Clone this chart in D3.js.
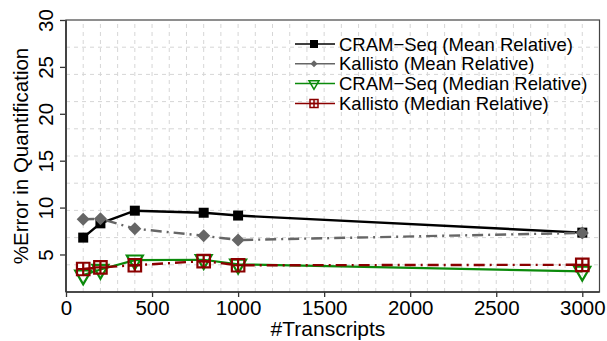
<!DOCTYPE html>
<html>
<head>
<meta charset="utf-8">
<script src="https://cdn.jsdelivr.net/npm/d3@7"></script>
<style>
  body { margin: 0; background: #fff; }
  text { font-family: "Liberation Sans", Arial, sans-serif; fill: #000; }
</style>
</head>
<body>
<script>
const width = 607;
const height = 341;
const margin = { top: 20, right: 7.5, bottom: 49, left: 66 };

// Number of transcripts on the x axis
const transcripts = [100, 200, 400, 800, 1000, 3000];

// % error series
const cramMean = [6.8, 8.32, 9.67, 9.45, 9.15, 7.33];
const kallistoMean = [8.75, 8.8, 7.75, 7.0, 6.54, 7.3];
const cramMedian = [2.8, 3.4, 4.4, 4.44, 3.95, 3.2];
const kallistoMedian = [3.45, 3.63, 3.85, 4.3, 3.85, 3.9];

const seriesNames = [
  "CRAM\u2212Seq (Mean Relative)",
  "Kallisto (Mean Relative)",
  "CRAM\u2212Seq (Median Relative)",
  "Kallisto (Median Relative)"
];

const xTicks = [0, 500, 1000, 1500, 2000, 2500, 3000];
const yTicks = [5, 10, 15, 20, 25, 30];

const svg = d3.select("body")
    .append("svg")
    .attr("width", width)
    .attr("height", height);

const x = d3.scaleLinear()
    .domain([0, 3100])
    .range([margin.left, width - margin.right]);

const y = d3.scaleLinear()
    .domain([1, 30])
    .range([height - margin.bottom, margin.top]);

// grid: every 100 transcripts, ten equal rows
const grid = svg.append("g")
    .attr("stroke", "#d6d6d6")
    .attr("stroke-width", 1)
    .attr("stroke-dasharray", "4,4");

grid.selectAll(".vg")
    .data(d3.range(100, 3100, 100))
    .join("line")
    .attr("x1", d => x(d)).attr("x2", d => x(d))
    .attr("y1", y(1)).attr("y2", y(30));

grid.selectAll(".hg")
    .data(d3.range(1, 10).map(i => 1 + i * 2.9))
    .join("line")
    .attr("x1", x(0)).attr("x2", x(3100))
    .attr("y1", d => y(d)).attr("y2", d => y(d));

// axes
const xAxis = svg.append("g")
    .attr("transform", `translate(0, ${y(1)})`)
    .call(d3.axisBottom(x).tickValues(xTicks).tickSize(5).tickSizeOuter(0).tickFormat(d3.format("d")));
xAxis.select(".domain").remove();
xAxis.selectAll(".tick line").attr("stroke", "#333").attr("stroke-width", 1.3);
xAxis.selectAll(".tick text")
    .attr("y", 0).attr("dy", 23)
    .style("font-size", "20.5px")
    .attr("fill", "#000");

const yAxis = svg.append("g")
    .attr("transform", `translate(${x(0)}, 0)`)
    .call(d3.axisLeft(y).tickValues(yTicks).tickSize(6).tickSizeOuter(0));
yAxis.select(".domain").remove();
yAxis.selectAll(".tick line").attr("stroke", "#333").attr("stroke-width", 1.3);
yAxis.selectAll(".tick text")
    .attr("x", null).attr("dy", null)
    .attr("text-anchor", "middle")
    .attr("transform", "translate(-13, 0) rotate(-90)")
    .style("font-size", "20.5px")
    .attr("fill", "#000");

// frame
svg.append("rect")
    .attr("x", x(0)).attr("y", y(30))
    .attr("width", x(3100) - x(0))
    .attr("height", y(1) - y(30))
    .attr("fill", "none")
    .attr("stroke", "#444")
    .attr("stroke-width", 1.2);
svg.append("line")
    .attr("x1", x(0)).attr("x2", x(0))
    .attr("y1", y(30)).attr("y2", y(1))
    .attr("stroke", "#444").attr("stroke-width", 2);
svg.append("line")
    .attr("x1", x(0)).attr("x2", x(3100))
    .attr("y1", y(1)).attr("y2", y(1))
    .attr("stroke", "#333").attr("stroke-width", 1.6);

// axis titles
svg.append("text")
    .attr("x", 328).attr("y", 336)
    .attr("text-anchor", "middle")
    .style("font-size", "21px")
    .text("#Transcripts");

svg.append("text")
    .attr("transform", `translate(28, ${(y(1) + y(30)) / 2}) rotate(-90)`)
    .attr("text-anchor", "middle")
    .style("font-size", "20.5px")
    .text("%Error in Quantification");

// marker shapes
function squarePath(s) {
  return d3.symbol(d3.symbolSquare, s * s)();
}
function diamondPath(s) {
  const h = s / 2;
  return `M0,${-h}L${h},0L0,${h}L${-h},0Z`;
}
function triDownPath(side) {
  return d3.symbol(d3.symbolTriangle, Math.sqrt(3) / 4 * side * side)();
}
function boxPlusPath(s) {
  const h = s / 2;
  return `M${-h},${-h}H${h}V${h}H${-h}Z M0,${-h}V${h} M${-h},0H${h}`;
}

const series = [
  { name: seriesNames[0], values: cramMean, color: "#000", width: 2.4, dash: null,
    marker: squarePath(10), legendMarker: squarePath(8), fill: "#000", stroke: "none", rot: 0 },
  { name: seriesNames[1], values: kallistoMean, color: "#666", width: 2.4, dash: "11,5,2,5",
    marker: diamondPath(13), legendMarker: diamondPath(7), fill: "#666", stroke: "none", rot: 0 },
  { name: seriesNames[2], values: cramMedian, color: "#0b8a0b", width: 2.2, dash: null,
    marker: triDownPath(16), legendMarker: triDownPath(10), fill: "none", stroke: "#0b8a0b", rot: 180 },
  { name: seriesNames[3], values: kallistoMedian, color: "#8b0000", width: 2.4, dash: "11,5,2,5",
    marker: boxPlusPath(12.5), legendMarker: boxPlusPath(8), fill: "none", stroke: "#8b0000", rot: 0 }
];

const line = d3.line()
    .x(d => x(d.x))
    .y(d => y(d.y));

series.forEach(s => {
  const pts = transcripts.map((t, i) => ({ x: t, y: s.values[i] }));
  const g = svg.append("g");
  g.append("path")
      .datum(pts)
      .attr("d", line)
      .attr("fill", "none")
      .attr("stroke", s.color)
      .attr("stroke-width", s.width)
      .attr("stroke-dasharray", s.dash);
  g.selectAll(".pt")
      .data(pts)
      .join("path")
      .attr("d", s.marker)
      .attr("transform", d => `translate(${x(d.x)}, ${y(d.y)}) rotate(${s.rot})`)
      .attr("fill", s.fill)
      .attr("stroke", s.stroke)
      .attr("stroke-width", 2.2);
});

// legend
const legend = svg.append("g");
const rowY = [44, 63.8, 83.6, 103.4];
series.forEach((s, i) => {
  const row = legend.append("g").attr("transform", `translate(0, ${rowY[i]})`);
  row.append("line")
      .attr("x1", 295).attr("x2", 335)
      .attr("stroke", s.color)
      .attr("stroke-width", 1.5);
  row.append("path")
      .attr("d", s.legendMarker)
      .attr("transform", `translate(314, 0) rotate(${s.rot})`)
      .attr("fill", s.fill)
      .attr("stroke", s.stroke)
      .attr("stroke-width", 1.5);
  row.append("text")
      .attr("x", 339).attr("y", 6.5)
      .style("font-size", "18.5px")
      .text(s.name);
});
</script>
</body>
</html>
